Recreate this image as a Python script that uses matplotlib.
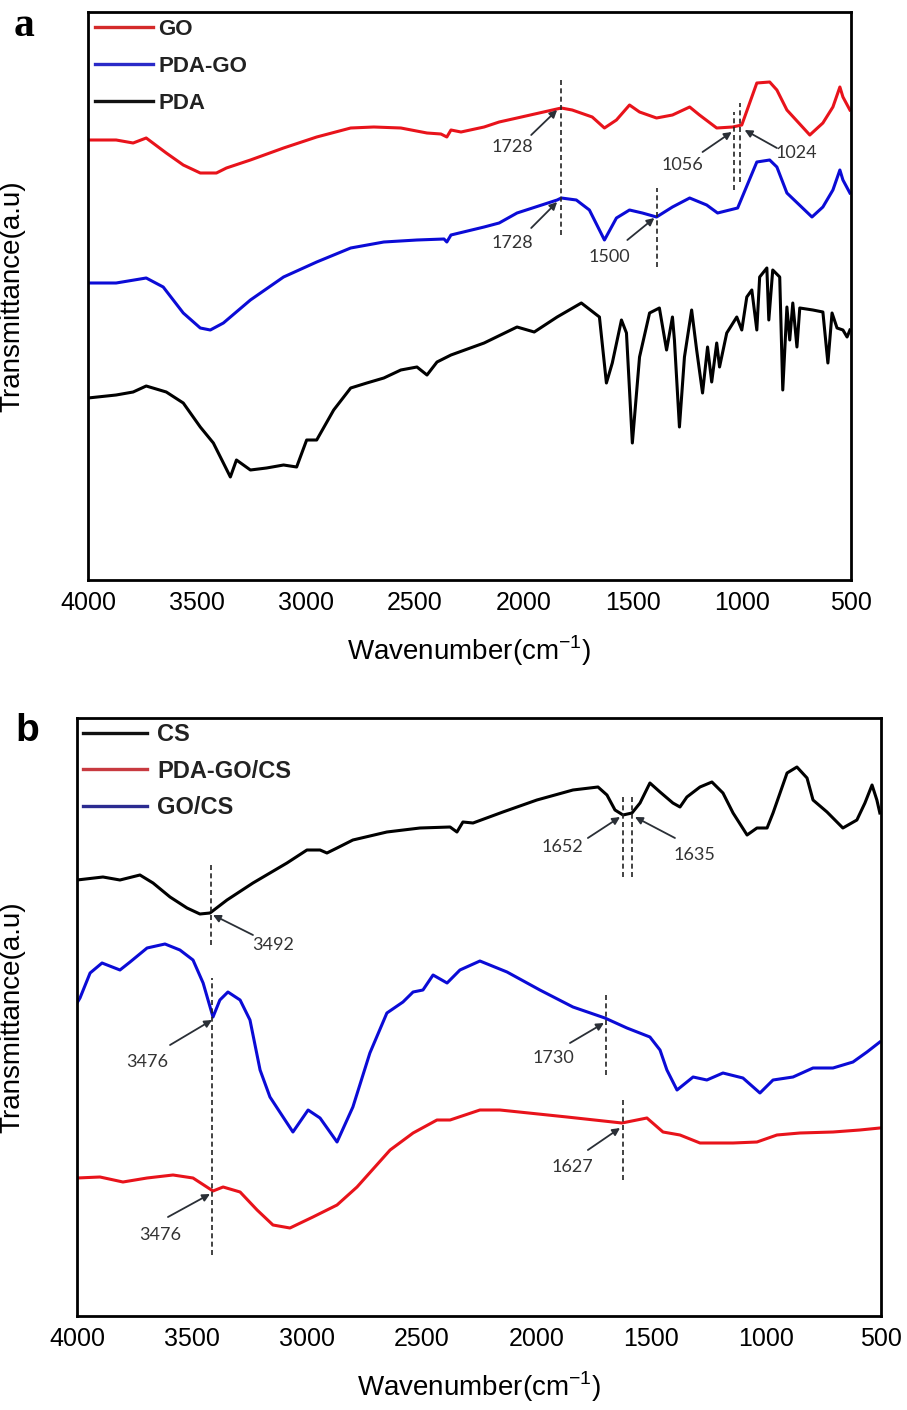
import matplotlib
matplotlib.use("Agg")
import matplotlib.pyplot as plt
from matplotlib.lines import Line2D

# ---------------- Panel a data (wavenumber cm-1, transmittance a.u.) ----------------
go_w = [4000, 3871, 3793, 3733, 3641, 3563, 3485, 3411, 3365, 3255, 3103, 2951, 2795, 2689,
        2565, 2445, 2381, 2354, 2335, 2289, 2183, 2114, 2032, 1829, 1779, 1687, 1631, 1576,
        1516, 1470, 1392, 1319, 1240, 1195, 1116, 1043, 1001, 932, 873, 840, 794, 689, 629,
        583, 551, 537, 505]
go_t = [440, 440, 437, 442, 427, 415, 407, 407, 412, 420, 432, 443, 452, 453,
        452, 447, 446, 443, 450, 448, 453, 458, 462, 472, 470, 463, 452, 460,
        475, 468, 462, 465, 473, 465, 452, 453, 455, 497, 498, 490, 470, 445, 457,
        473, 493, 483, 470]

pdago_w = [4000, 3871, 3733, 3655, 3563, 3485, 3439, 3379, 3255, 3103, 2951, 2795, 2643,
           2491, 2367, 2354, 2335, 2183, 2114, 2032, 1848, 1829, 1760, 1700, 1654, 1631,
           1576, 1516, 1457, 1392, 1319, 1240, 1162, 1112, 1020, 932, 873, 840, 794, 679,
           629, 583, 551, 537, 505]
pdago_t = [297, 297, 302, 293, 267, 252, 250, 257, 280, 303, 318, 332, 338,
           340, 341, 338, 345, 353, 357, 367, 380, 382, 380, 370, 350, 340,
           362, 370, 367, 363, 373, 382, 375, 367, 372, 418, 420, 413, 387, 363,
           373, 390, 410, 400, 387]

pda_w = [4000, 3871, 3793, 3733, 3641, 3563, 3485, 3425, 3379, 3347, 3319, 3255, 3181, 3103,
         3043, 2997, 2951, 2873, 2795, 2721, 2643, 2565, 2491, 2445, 2399, 2335, 2183, 2032,
         1953, 1848, 1737, 1654, 1622, 1595, 1553, 1530, 1503, 1470, 1424, 1379, 1346, 1319,
         1310, 1287, 1264, 1231, 1208, 1181, 1158, 1139, 1116, 1103, 1070, 1024, 1001, 978,
         955, 932, 919, 886, 877, 859, 827, 813, 794, 781, 767, 748, 735, 675, 629, 606,
         587, 564, 537, 518, 505]
pda_t = [182, 185, 188, 194, 188, 177, 153, 137, 117, 103, 120, 110, 112, 115,
         113, 140, 140, 170, 192, 197, 202, 210, 213, 205, 218, 225, 237, 253,
         248, 263, 277, 263, 197, 217, 260, 247, 137, 223, 267, 272, 230, 263,
         240, 153, 223, 270, 230, 187, 233, 198, 237, 213, 247, 263, 250, 283,
         290, 250, 303, 312, 260, 310, 303, 190, 273, 240, 277, 233, 272, 270, 268, 217,
         267, 252, 250, 243, 250]

# annotations panel a: label, text pos, arrow tail, arrow tip
a_vlines_w = [1829, 1392, 1038, 1011]
a_vlines_t0 = [345, 313, 390, 398]
a_vlines_t1 = [503, 392, 468, 477]
a_labels = ["1728", "1728", "1500", "1056", "1024"]
a_label_w = [2055, 2055, 1609, 1273, 749]
a_label_t = [433, 337, 323, 415, 427]
a_tail_w = [1967, 1967, 1526, 1181, 840]
a_tail_t = [445, 352, 340, 428, 432]
a_tip_w = [1848, 1848, 1402, 1047, 988]
a_tip_t = [470, 378, 362, 448, 450]

# ---------------- Panel b data ----------------
cs_w = [4000, 3887, 3813, 3726, 3669, 3595, 3521, 3465, 3421, 3347, 3234, 3086, 2999, 2942,
        2912, 2868, 2799, 2651, 2507, 2376, 2346, 2320, 2276, 2146, 1998, 1841, 1732, 1693,
        1658, 1623, 1584, 1549, 1506, 1462, 1406, 1375, 1345, 1288, 1236, 1188, 1144, 1083,
        1040, 996, 970, 909, 866, 822, 796, 735, 666, 605, 570, 539, 518, 505]
cs_t = [436, 439, 436, 441, 433, 419, 408, 402, 403, 416, 433, 453, 466, 466,
        463, 468, 476, 484, 488, 489, 484, 494, 493, 504, 516, 526, 529, 521,
        506, 501, 503, 513, 533, 524, 513, 509, 519, 529, 534, 523, 503, 481,
        488, 488, 503, 543, 549, 538, 516, 504, 488, 496, 513, 531, 516, 503]

gocs_w = [4000, 3987, 3943, 3891, 3813, 3769, 3695, 3617, 3552, 3495, 3451, 3408, 3378, 3343,
          3290, 3247, 3203, 3160, 3103, 3060, 2994, 2942, 2868, 2799, 2725, 2651, 2581, 2537,
          2494, 2450, 2389, 2333, 2246, 2128, 1985, 1841, 1702, 1606, 1506, 1462, 1432, 1388,
          1318, 1258, 1188, 1101, 1027, 970, 883, 796, 709, 622, 561, 505]
gocs_t = [313, 318, 343, 353, 346, 354, 368, 372, 366, 356, 333, 299, 316, 324,
          316, 296, 246, 219, 199, 184, 206, 198, 174, 209, 263, 303, 314, 324,
          326, 341, 333, 346, 355, 344, 326, 309, 298, 288, 279, 266, 246, 226,
          239, 236, 243, 238, 223, 236, 239, 248, 248, 254, 264, 274]

pdagocs_w = [4000, 3900, 3800, 3695, 3582, 3495, 3408, 3364, 3290, 3216, 3147, 3073, 2973, 2868,
             2781, 2637, 2537, 2433, 2376, 2246, 2159, 1867, 1628, 1519, 1449, 1375, 1288, 1144,
             1040, 953, 853, 709, 592, 505]
pdagocs_t = [138, 139, 134, 138, 141, 138, 125, 129, 124, 106, 91, 88, 99, 111,
             129, 166, 183, 196, 196, 206, 206, 199, 193, 198, 184, 181, 173, 173,
             174, 181, 183, 184, 186, 188]

b_vlines_w = [3417, 3412, 1623, 1584, 1697, 1623]
b_vlines_t0 = [371, 61, 439, 439, 241, 136]
b_vlines_t1 = [451, 338, 521, 521, 323, 218]
b_labels = ["3492", "1652", "1635", "3476", "3476", "1730", "1627"]
b_label_w = [3147, 1889, 1310, 3695, 3639, 1928, 1845]
b_label_t = [371, 469, 461, 254, 81, 258, 149]
b_tail_w = [3234, 1776, 1397, 3595, 3604, 1854, 1776]
b_tail_t = [381, 478, 478, 271, 99, 273, 166]
b_tip_w = [3408, 1636, 1571, 3412, 3421, 1706, 1636]
b_tip_t = [401, 499, 499, 296, 122, 293, 188]

xticks = [4000, 3500, 3000, 2500, 2000, 1500, 1000, 500]

RED = "#e8131b"
BLUE = "#0b0bd6"
BLACK = "#000000"

plt.rcParams['font.family'] = ['Liberation Sans', 'DejaVu Sans']

W, H = 907, 1410
fig = plt.figure(figsize=(W / 100, H / 100), dpi=100)

def make_axes(l, r, t, b):
    return fig.add_axes([l / W, 1 - b / H, (r - l) / W, (b - t) / H])

axA = make_axes(88, 851, 12, 580)
axB = make_axes(77, 881, 718, 1316)

def style(ax, ymax, lab_off):
    ax.set_xlim(4000, 500)
    ax.set_ylim(0, ymax)
    ax.set_xticks(xticks)
    ax.set_xticklabels([str(v) for v in xticks])
    ax.set_yticks([])
    ax.tick_params(axis='x', length=0, pad=8, labelsize=18)
    for s in ax.spines.values():
        s.set_linewidth(2.0)
    ax.set_xlabel('Wavenumber(cm$^{\\mathregular{-1}}$)', fontsize=20, labelpad=13)
    ax.set_ylabel('Transmittance(a.u)', fontsize=20)
    ax.yaxis.set_label_coords(lab_off, 0.5)

style(axA, 568, -63 / 763)
style(axB, 598, -52 / 804)

LW = 2.2
axA.plot(go_w, go_t, color=RED, lw=LW)
axA.plot(pdago_w, pdago_t, color=BLUE, lw=LW)
axA.plot(pda_w, pda_t, color=BLACK, lw=LW)

axB.plot(cs_w, cs_t, color=BLACK, lw=LW)
axB.plot(gocs_w, gocs_t, color=BLUE, lw=LW)
axB.plot(pdagocs_w, pdagocs_t, color=RED, lw=LW)

def annotate(ax, vw, v0, v1, labs, lw_, lt, tw, tt, pw, pt):
    for x, y0, y1 in zip(vw, v0, v1):
        ax.plot([x, x], [y0, y1], color='#222222', lw=1.2, dashes=(3, 2))
    for s, x, y in zip(labs, lw_, lt):
        ax.text(x, y, s, fontsize=13, color='#333333', family=['Lato', 'DejaVu Sans'],
                ha='center', va='center')
    for x0, y0, x1, y1 in zip(tw, tt, pw, pt):
        ax.annotate('', xy=(x1, y1), xytext=(x0, y0),
                    arrowprops=dict(arrowstyle='-|>', color='#2a2f36', lw=1.3,
                                    mutation_scale=11, shrinkA=0, shrinkB=0))

annotate(axA, a_vlines_w, a_vlines_t0, a_vlines_t1, a_labels, a_label_w, a_label_t,
         a_tail_w, a_tail_t, a_tip_w, a_tip_t)
annotate(axB, b_vlines_w, b_vlines_t0, b_vlines_t1, b_labels, b_label_w, b_label_t,
         b_tail_w, b_tail_t, b_tip_w, b_tip_t)

# legends
legA = [Line2D([], [], color='#d42a2a', lw=2.4), Line2D([], [], color='#2a2ac8', lw=2.4),
        Line2D([], [], color='#111111', lw=2.4)]
axA.legend(legA, ['GO', 'PDA-GO', 'PDA'], loc='upper left', frameon=False,
           bbox_to_anchor=(7 / 763, 1 - 7 / 568), borderaxespad=0, borderpad=0,
           handlelength=2.6, handletextpad=0.25, labelspacing=0.72,
           prop=dict(size=16, weight='bold'), labelcolor='#222222')
legB = [Line2D([], [], color='#111111', lw=2.4), Line2D([], [], color='#c83a40', lw=2.4),
        Line2D([], [], color='#2b2b90', lw=2.4)]
axB.legend(legB, ['CS', 'PDA-GO/CS', 'GO/CS'], loc='upper left', frameon=False,
           bbox_to_anchor=(6 / 804, 1 - 5 / 598), borderaxespad=0, borderpad=0,
           handlelength=2.7, handletextpad=0.45, labelspacing=0.58,
           prop=dict(size=17, weight='bold'), labelcolor='#222222')

fig.text(24 / W, 1 - 26 / H, 'a', fontsize=30, weight='bold', family='Liberation Serif',
         ha='center', va='center')
fig.text(27 / W, 1 - 731 / H, 'b', fontsize=28, weight='bold', ha='center', va='center')

fig.savefig('out.png', dpi=100)
